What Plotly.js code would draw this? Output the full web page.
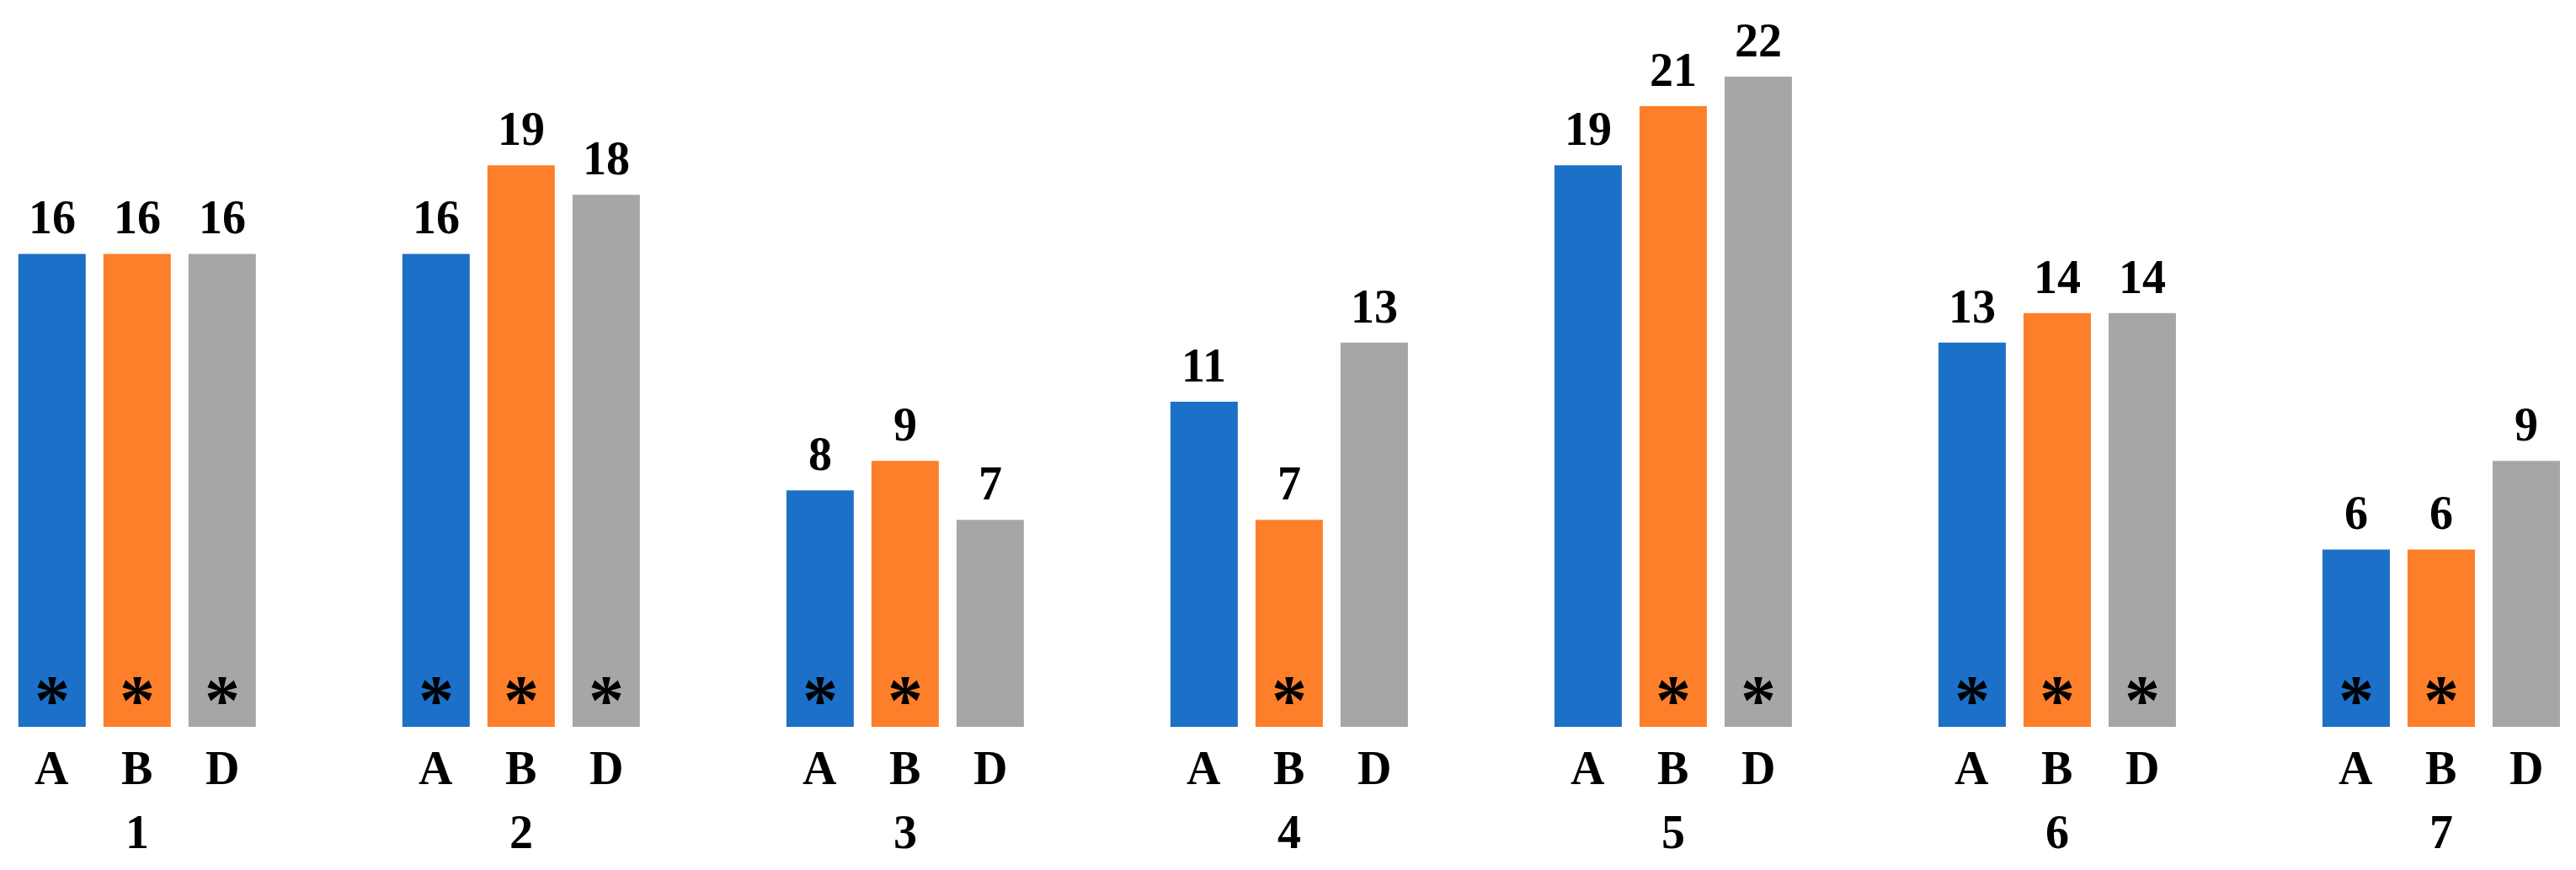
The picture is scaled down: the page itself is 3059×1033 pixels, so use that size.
<!DOCTYPE html>
<html><head><meta charset="utf-8">
<script src="https://cdn.plot.ly/plotly-3.0.1.min.js"></script>
<style>html,body{margin:0;padding:0;background:#fff;}</style>
</head><body>
<div id="chart" style="width:3059px;height:1033px;"></div>
<script>
const groups = ["1","2","3","4","5","6","7"];
const seriesNames = ["A","B","D"];
const valuesA = [16,16,8,11,19,13,6];
const valuesB = [16,19,9,7,21,14,6];
const valuesD = [16,18,7,13,22,14,9];
const sigA = [true,true,true,false,false,true,true];
const sigB = [true,true,true,true,true,true,true];
const sigD = [true,true,false,false,true,true,false];

const colors = ["#1c70c8","#fd7f2a","#a6a6a6"];
const allValues = [valuesA, valuesB, valuesD];
const allSig = [sigA, sigB, sigD];

const FONT = "'Liberation Serif', 'Times New Roman', Times, serif";
const bargap = 0.3355;
const slot = (1 - bargap) / 3;
const xIdx = groups.map((g,i)=>i);

const traces = seriesNames.map((name,k)=>({
  type:'bar', name:name, x:xIdx, y:allValues[k],
  marker:{color:colors[k], line:{width:0}},
  hoverinfo:'none'
}));

const annotations = [];
groups.forEach((g,i)=>{
  annotations.push({x:i, y:0, xref:'x', yref:'y', text:'<b>'+g+'</b>', showarrow:false,
    yanchor:'middle', yshift:-125, font:{family:FONT, size:56, color:'#000'}});
  seriesNames.forEach((name,k)=>{
    const xc = i + (k-1)*slot;
    annotations.push({x:xc, y:allValues[k][i], xref:'x', yref:'y', text:'<b>'+allValues[k][i]+'</b>',
      showarrow:false, yanchor:'bottom', yshift:10,
      font:{family:FONT, size:56, color:'#000'}});
    annotations.push({x:xc, y:0, xref:'x', yref:'y', text:'<b>'+name+'</b>', showarrow:false,
      yanchor:'middle', yshift:-49, font:{family:FONT, size:56, color:'#000'}});
    if (allSig[k][i]) {
      annotations.push({x:xc, y:0, xref:'x', yref:'y', text:'<b>*</b>', showarrow:false,
        yanchor:'middle', yshift:32, font:{family:FONT, size:84, color:'#000'}});
    }
  });
});

const layout = {
  width:3059, height:1033,
  font:{family:FONT},
  margin:{l:0, r:0, t:0, b:170, pad:0},
  paper_bgcolor:'#fff', plot_bgcolor:'#fff',
  barmode:'group', bargap:bargap, bargroupgap:0.208,
  showlegend:false,
  xaxis:{range:[-0.357, 6.351], visible:false, fixedrange:true},
  yaxis:{range:[0, 24.59], visible:false, fixedrange:true},
  annotations:annotations
};
Plotly.newPlot('chart', traces, layout, {staticPlot:true});
</script>
</body></html>
